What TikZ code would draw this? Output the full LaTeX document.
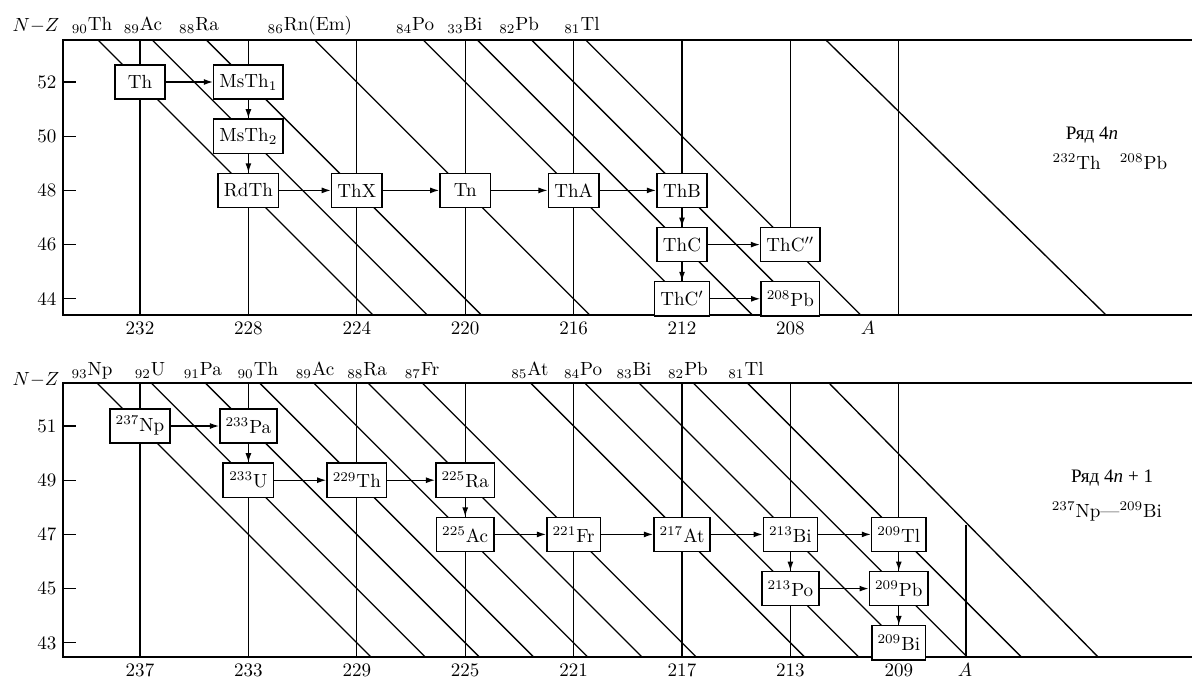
\documentclass[tikz,border=0pt]{standalone}
\usepackage{fontspec}
\newfontfamily\cyrfont{Liberation Serif}
\usetikzlibrary{arrows.meta}
\tikzset{
  nuc/.style={draw,fill=white,line width=0.75pt,inner xsep=3pt,minimum width=0.93cm,minimum height=0.63cm},
  decay/.style={-{Latex[length=1.7mm,width=1.1mm]},line width=0.7pt},
  isoline/.style={line width=0.7pt},
  axisline/.style={line width=1pt},
}
\begin{document}
\begin{tikzpicture}
  \useasboundingbox (0,0) rectangle (21.993,-12.528);
  \begin{scope}[x=-0.5cm,y=0.5cm,shift={(118.583cm,-27.513cm)}]
    \foreach \a in {232,228,224,220,216,212,204}
      \draw[isoline] (\a,53.55) -- (\a,43.4);
    \draw[isoline] (208,53.55) -- (208,46);
    \foreach \z in {90,89,88,86,84,83,82,81}
      \draw[isoline] ({2*\z+53.55},53.55) -- ({2*\z+43.4},43.4);
    \draw[isoline] (206.69,53.55) -- (196.35,43.4);
    \draw[axisline] (193.1,53.55) -- (234.84,53.55) -- (234.84,43.4) -- (193.1,43.4);
    \foreach \n in {44,46,...,52} {
      \draw[isoline] (234.84,\n) -- (234.36,\n);
      \node[left] (tk\n) at (234.84,\n) {\n};
    }
    \foreach \a in {232,228,...,208}
      \node[below] (ax\a) at (\a,43.4) {\a};
    \node[below] (ma) at (205.14,43.4) {$A$};
    \node[anchor=base] (nz) at (235.84,53.85) {$N{-}Z$};
    \node[anchor=base] (zth) at (233.77,53.9) {$_{90}$Th};
    \node[anchor=base] (zac) at (231.89,53.9) {$_{89}$Ac};
    \node[anchor=base] (zra) at (229.82,53.9) {$_{88}$Ra};
    \node[anchor=base] (zrn) at (225.73,53.9) {$_{86}$Rn(Em)};
    \node[anchor=base] (zpo) at (221.85,53.9) {$_{84}$Po};
    \node[anchor=base] (zbi) at (220.01,53.9) {$_{33}$Bi};
    \node[anchor=base] (zpb) at (218.01,53.9) {$_{82}$Pb};
    \node[anchor=base] (ztl) at (215.69,53.9) {$_{81}$Tl};
    \node (ser) at (196.87,50.04) {\cyrfont Ряд 4\textit{n}};
    \node (serend) at (196.21,49.05) {$^{232}$Th\quad$^{208}$Pb};
    \node[nuc] (th) at (232,52) {Th};
    \node[nuc] (ms1) at (228,52) {MsTh$_1$};
    \node[nuc] (ms2) at (228,50) {MsTh$_2$};
    \node[nuc] (rdth) at (228,48) {RdTh};
    \node[nuc] (thx) at (224,48) {ThX};
    \node[nuc] (tn) at (220,48) {Tn};
    \node[nuc] (tha) at (216,48) {ThA};
    \node[nuc] (thb) at (212,48) {ThB};
    \node[nuc] (thc) at (212,46) {ThC};
    \node[nuc] (thcc) at (208,46) {ThC$''$};
    \node[nuc] (thc1) at (212,44) {ThC$'$};
    \node[nuc] (pbend) at (208,44) {$^{208}$Pb};
    \draw[decay] (th) -- (ms1);
    \draw[decay] (ms1) -- (ms2);
    \draw[decay] (ms2) -- (rdth);
    \draw[decay] (rdth) -- (thx);
    \draw[decay] (thx) -- (tn);
    \draw[decay] (tn) -- (tha);
    \draw[decay] (tha) -- (thb);
    \draw[decay] (thb) -- (thc);
    \draw[decay] (thc) -- (thcc);
    \draw[decay] (thc) -- (thc1);
    \draw[decay] (thc1) -- (pbend);
  \end{scope}
  \begin{scope}[x=-0.5cm,y=0.5cm,shift={(121.083cm,-33.360cm)}]
    \foreach \a in {237,233,...,209}
      \draw[isoline] (\a,52.59) -- (\a,42.48);
    \draw[isoline] (206.52,47.35) -- (206.52,42.48);
    \foreach \z in {93,92,91,90,89,88,87,85,84,83,82,81}
      \draw[isoline] ({2*\z+52.59},52.59) -- ({2*\z+42.48},42.48);
    \draw[isoline] (211.58,52.59) -- (201.65,42.48);
    \draw[axisline] (198.1,52.59) -- (239.84,52.59) -- (239.84,42.48) -- (198.1,42.48);
    \foreach \n in {43,45,...,51} {
      \draw[isoline] (239.84,\n) -- (239.36,\n);
      \node[left] (tk\n) at (239.84,\n) {\n};
    }
    \foreach \a in {237,233,...,209}
      \node[below] (ax\a) at (\a,42.48) {\a};
    \node[below] (ma) at (206.56,42.48) {$A$};
    \node[anchor=base] (nz) at (240.84,52.51) {$N{-}Z$};
    \node[anchor=base] (znp) at (238.77,52.85) {$_{93}$Np};
    \node[anchor=base] (zu) at (236.63,52.85) {$_{92}$U};
    \node[anchor=base] (zpa) at (234.68,52.85) {$_{91}$Pa};
    \node[anchor=base] (zth) at (232.65,52.85) {$_{90}$Th};
    \node[anchor=base] (zac) at (230.54,52.85) {$_{89}$Ac};
    \node[anchor=base] (zra) at (228.62,52.85) {$_{88}$Ra};
    \node[anchor=base] (zfr) at (226.59,52.85) {$_{87}$Fr};
    \node[anchor=base] (zat) at (222.61,52.85) {$_{85}$At};
    \node[anchor=base] (zpo) at (220.65,52.85) {$_{84}$Po};
    \node[anchor=base] (zbi) at (218.77,52.85) {$_{83}$Bi};
    \node[anchor=base] (zpb) at (216.78,52.85) {$_{82}$Pb};
    \node[anchor=base] (ztl) at (214.64,52.85) {$_{81}$Tl};
    \node (ser) at (201.13,49.08) {\cyrfont Ряд 4\textit{n} + 1};
    \node (serend) at (201.32,47.83) {$^{237}$Np---$^{209}$Bi};
    \node[nuc] (np) at (237,51) {$^{237}$Np};
    \node[nuc] (pa) at (233,51) {$^{233}$Pa};
    \node[nuc] (u) at (233,49) {$^{233}$U};
    \node[nuc] (thn) at (229,49) {$^{229}$Th};
    \node[nuc] (ra) at (225,49) {$^{225}$Ra};
    \node[nuc] (ac) at (225,47) {$^{225}$Ac};
    \node[nuc] (fr) at (221,47) {$^{221}$Fr};
    \node[nuc] (at) at (217,47) {$^{217}$At};
    \node[nuc] (bia) at (213,47) {$^{213}$Bi};
    \node[nuc] (tl) at (209,47) {$^{209}$Tl};
    \node[nuc] (po) at (213,45) {$^{213}$Po};
    \node[nuc] (pb) at (209,45) {$^{209}$Pb};
    \node[nuc] (bib) at (209,43) {$^{209}$Bi};
    \draw[decay] (np) -- (pa);
    \draw[decay] (pa) -- (u);
    \draw[decay] (u) -- (thn);
    \draw[decay] (thn) -- (ra);
    \draw[decay] (ra) -- (ac);
    \draw[decay] (ac) -- (fr);
    \draw[decay] (fr) -- (at);
    \draw[decay] (at) -- (bia);
    \draw[decay] (bia) -- (tl);
    \draw[decay] (bia) -- (po);
    \draw[decay] (tl) -- (pb);
    \draw[decay] (po) -- (pb);
    \draw[decay] (pb) -- (bib);
  \end{scope}
\end{tikzpicture}
\end{document}
